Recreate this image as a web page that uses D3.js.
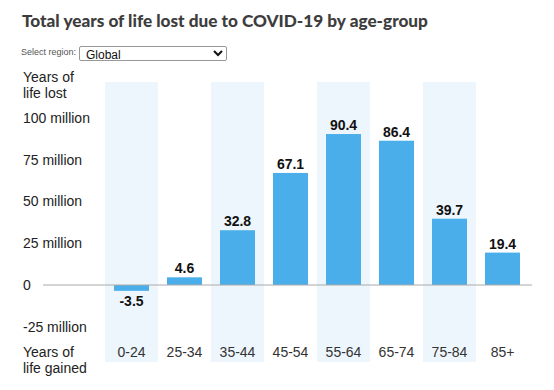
<!DOCTYPE html>
<html>
<head>
<meta charset="utf-8">
<script src="https://cdn.jsdelivr.net/npm/d3@7"></script>
<style>
  body { margin: 0; background: #fff; }
  #chart { position: relative; width: 554px; height: 390px; }
  .title { position: absolute; left: 22px; top: 10px; font-family: Lato, sans-serif; font-weight: 900; font-size: 17.2px; color: #3d3d3d; white-space: nowrap; }
  .picker-label { position: absolute; left: 21px; top: 47px; font-family: "Liberation Sans", Arial, sans-serif; font-size: 9px; color: #555; }
  .picker { position: absolute; left: 79px; top: 45px; }
  .picker select { font-family: "Liberation Sans", Arial, sans-serif; font-size: 12px; width: 148px; height: 15px; padding: 0 0 0 2px; margin: 0; border: 1px solid #999; border-radius: 2px; background: #fff; color: #111; }
  svg { position: absolute; left: 0; top: 0; }
</style>
</head>
<body>
<div id="chart">
  <div class="title">Total years of life lost due to COVID-19 by age-group</div>
  <div class="picker-label">Select region:</div>
  <div class="picker"><select id="menu"></select></div>
</div>
<script>
// age groups and total years of life lost (millions)
const categories = ["0-24", "25-34", "35-44", "45-54", "55-64", "65-74", "75-84", "85+"];
const values = [-3.5, 4.6, 32.8, 67.1, 90.4, 86.4, 39.7, 19.4];
const yTicks = [100, 75, 50, 25, 0, -25];
const yTickLabels = ["100 million", "75 million", "50 million", "25 million", "0", "-25 million"];
const regions = ["Global"];

let select = document.getElementById("menu");
regions.forEach((r) => {
  let opt = document.createElement("option");
  opt.value = r;
  opt.innerHTML = r;
  select.appendChild(opt);
});

let width = 554,
  height = 390;

let svg = d3.select("#chart").append("svg").attr("width", width).attr("height", height);

let x = d3.scaleBand().domain(categories).range([105, 529]).padding(0);
let y = d3.scaleLinear().domain([-25, 100]).range([326.75, 118]);

let barW = x.bandwidth() * 0.66;

// alternating shaded columns
svg
  .selectAll(".band")
  .data(categories.filter((d, i) => i % 2 == 0))
  .join("rect")
  .attr("x", (d) => x(d))
  .attr("y", 82)
  .attr("width", x.bandwidth())
  .attr("height", 280)
  .attr("fill", "#eef6fd");

// y tick labels
svg
  .selectAll(".ytick")
  .data(yTicks)
  .join("text")
  .attr("x", 23)
  .attr("y", (d) => y(d))
  .attr("dy", "0.35em")
  .style("font-family", "Liberation Sans, Arial, sans-serif")
  .style("font-size", "14px")
  .style("fill", "#222")
  .text((d, i) => yTickLabels[i]);

// axis captions
const caption = (lines, y0) => {
  svg
    .selectAll(null)
    .data(lines)
    .join("text")
    .attr("x", 23)
    .attr("y", (d, i) => y0 + i * 16.5)
    .attr("dy", "0.35em")
    .style("font-family", "Liberation Sans, Arial, sans-serif")
    .style("font-size", "14px")
    .style("fill", "#222")
    .text((d) => d);
};
caption(["Years of", "life lost"], 77);
caption(["Years of", "life gained"], 352);

// bars
svg
  .selectAll(".bar")
  .data(values)
  .join("rect")
  .attr("x", (d, i) => x(categories[i]) + (x.bandwidth() - barW) / 2)
  .attr("y", (d) => y(Math.max(0, d)))
  .attr("width", barW)
  .attr("height", (d) => Math.abs(y(d) - y(0)))
  .attr("fill", "#4aaeea");

// zero line
svg
  .append("line")
  .attr("x1", 43)
  .attr("x2", 532)
  .attr("y1", y(0))
  .attr("y2", y(0))
  .attr("stroke", "#aaa")
  .attr("stroke-width", 1);

// value labels
svg
  .selectAll(".val")
  .data(values)
  .join("text")
  .attr("x", (d, i) => x(categories[i]) + x.bandwidth() / 2)
  .attr("y", (d) => (d >= 0 ? y(d) - 4 : y(d) + 15))
  .attr("text-anchor", "middle")
  .style("font-family", "Liberation Sans, Arial, sans-serif")
  .style("font-weight", "bold")
  .style("font-size", "14px")
  .style("fill", "#111")
  .text((d) => d.toFixed(1));

// x labels
svg
  .selectAll(".xlab")
  .data(categories)
  .join("text")
  .attr("x", (d) => x(d) + x.bandwidth() / 2)
  .attr("y", 352)
  .attr("dy", "0.35em")
  .attr("text-anchor", "middle")
  .style("font-family", "Liberation Sans, Arial, sans-serif")
  .style("font-size", "14px")
  .style("fill", "#333")
  .text((d) => d);
</script>
</body>
</html>
